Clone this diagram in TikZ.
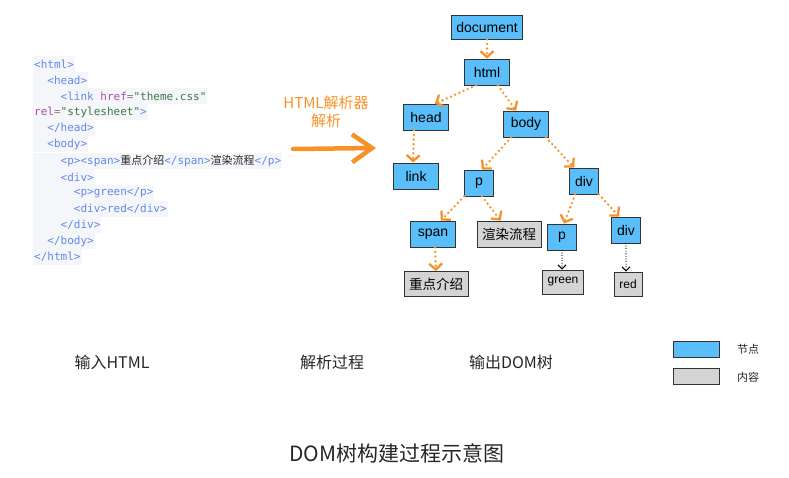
\documentclass[tikz,border=0pt]{standalone}
\usepackage{fontspec}
\setmainfont{Liberation Sans}
\setmonofont{DejaVu Sans Mono}
\newfontfamily\cjk{Noto Sans CJK SC}
\usetikzlibrary{arrows.meta}

\definecolor{nodeblue}{RGB}{90,190,250}
\definecolor{contentgray}{RGB}{212,212,212}
\definecolor{flow}{RGB}{247,146,40}
\definecolor{tagblue}{RGB}{98,137,232}
\definecolor{attrpurple}{RGB}{168,80,168}
\definecolor{strgreen}{RGB}{60,120,70}
\definecolor{codebg}{RGB}{245,246,249}

\begin{document}
\begin{tikzpicture}[x=1pt, y=-1pt,
    elem/.style={draw=black!80, fill=nodeblue, line width=0.7pt, inner xsep=5pt,
        minimum width=45pt, minimum height=26pt, font=\fontsize{14}{14}\selectfont},
    cont/.style={elem, fill=contentgray, minimum height=24pt, minimum width=28pt,
        font=\fontsize{12}{12}\selectfont},
    tree/.style={flow, line width=2.6pt, dash pattern=on 0pt off 4.6pt, line cap=round,
        -{Straight Barb[length=6pt,width=13pt,line width=2.3pt]}},
    leaf/.style={black, line width=1.2pt, dash pattern=on 0pt off 2.6pt, line cap=round,
        -{Straight Barb[length=4pt,width=8pt,line width=1.1pt]}},
    codeln/.style={anchor=west, fill=codebg, inner xsep=1pt, inner ysep=0pt,
        minimum height=16pt, text=tagblue, font=\ttfamily\fontsize{11}{11}\selectfont},
    caption/.style={font=\cjk\fontsize{16}{16}\selectfont, text=black!85}]

    \useasboundingbox (0,0) rectangle (789,478);

    % Input HTML source
    \node[codeln] (c1) at (33,64) {<html>};
    \node[codeln] (c2) at (33,80) {~~<head>};
    \node[codeln] (c3) at (33,96) {~~~~<link \textcolor{attrpurple}{href}\textcolor{black!50}{=}\textcolor{strgreen}{"theme.css"}};
    \node[codeln] (c4) at (33,112) {\textcolor{attrpurple}{rel}\textcolor{black!50}{=}\textcolor{strgreen}{"stylesheet"}>};
    \node[codeln] (c5) at (33,128) {~~</head>};
    \node[codeln] (c6) at (33,144) {~~<body>};
    \node[codeln] (c7) at (33,161) {~~~~<p><span>\textcolor{black!85}{\cjk 重点介绍}</span>\textcolor{black!85}{\cjk 渲染流程}</p>};
    \node[codeln] (c8) at (33,177) {~~~~<div>};
    \node[codeln] (c9) at (33,193) {~~~~~~<p>green</p>~};
    \node[codeln] (c10) at (33,209) {~~~~~~<div>red</div>~};
    \node[codeln] (c11) at (33,225) {~~~~</div>};
    \node[codeln] (c12) at (33,241) {~~</body>};
    \node[codeln] (c13) at (33,257) {</html>};

    % Parser arrow
    \node[flow, font=\cjk\fontsize{15}{15}\selectfont, align=center] (parser) at (326,112)
        {HTML解析器\\[3pt]解析};
    \coordinate (parsefrom) at (293,149);
    \coordinate (parseto) at (376,148);
    \draw[flow, line width=4.5pt, line cap=round,
        -{Straight Barb[length=20pt,width=28pt,line width=4.5pt]}] (parsefrom) -- (parseto);

    % DOM tree
    \node[elem, minimum height=24pt] (document) at (487,27) {document};
    \node[elem] (html) at (487,72) {html};
    \node[elem] (head) at (426,117) {head};
    \node[elem] (body) at (526,124) {body};
    \node[elem] (link) at (416,176) {link};
    \node[elem, minimum width=29pt] (p1) at (479,183) {p};
    \node[elem, minimum width=29pt] (div1) at (584,181) {div};
    \node[elem] (span) at (433,234) {span};
    \node[cont, minimum height=26pt, font=\cjk\fontsize{13.5}{13.5}\selectfont] (xuanran) at (509,234) {渲染流程};
    \node[elem, minimum width=29pt] (p2) at (562,237) {p};
    \node[elem, minimum width=29pt] (div2) at (626,230) {div};
    \node[cont, minimum height=25pt, font=\cjk\fontsize{13.5}{13.5}\selectfont] (zhongdian) at (436,284) {重点介绍};
    \node[cont, minimum width=41pt] (green) at (563,282) {green};
    \node[cont] (red) at (628,284) {red};

    \draw[tree] (document.south) -- (html.north);
    \draw[tree] ([xshift=12pt]html.south west) -- ([xshift=-14pt]head.north east);
    \draw[tree] ([xshift=-12pt]html.south east) -- ([xshift=13pt]body.north west);
    \draw[tree] ([xshift=-12pt]head.south) -- ([xshift=-3pt]link.north);
    \draw[tree] ([xshift=8pt]body.south west) -- ([xshift=-12pt]p1.north east);
    \draw[tree] ([xshift=-3pt]body.south east) -- ([xshift=5pt]div1.north west);
    \draw[tree] (p1.south west) -- ([xshift=-15pt]span.north east);
    \draw[tree] ([xshift=3pt]p1.south) -- ([xshift=24pt]xuanran.north west);
    \draw[tree] ([xshift=6pt]div1.south west) -- ([xshift=2pt]p2.north);
    \draw[tree] (div1.south east) -- ([xshift=8pt]div2.north west);
    \draw[tree] ([xshift=2pt]span.south) -- (zhongdian.north);
    \draw[leaf] (p2.south) -- (p2.south |- green.north);
    \draw[leaf] (div2.south) -- (div2.south |- red.north);

    % Legend
    \node[elem, minimum width=46pt, minimum height=16pt] (legnode) at (696,349) {};
    \node[cont, minimum width=46pt, minimum height=16pt] (legcont) at (696,376) {};
    \node[font=\cjk\fontsize{11}{11}\selectfont, text=black!85] (legnodetxt) at (748,349) {节点};
    \node[font=\cjk\fontsize{11}{11}\selectfont, text=black!85] (legconttxt) at (748,377) {内容};

    % Captions
    \node[caption] (inlabel) at (112,362) {输入HTML};
    \node[caption] (parselabel) at (332,362) {解析过程};
    \node[caption] (outlabel) at (511,362) {输出DOM树};
    \node[caption, font=\cjk\fontsize{21}{21}\selectfont] (title) at (397,453) {DOM树构建过程示意图};

\end{tikzpicture}
\end{document}
